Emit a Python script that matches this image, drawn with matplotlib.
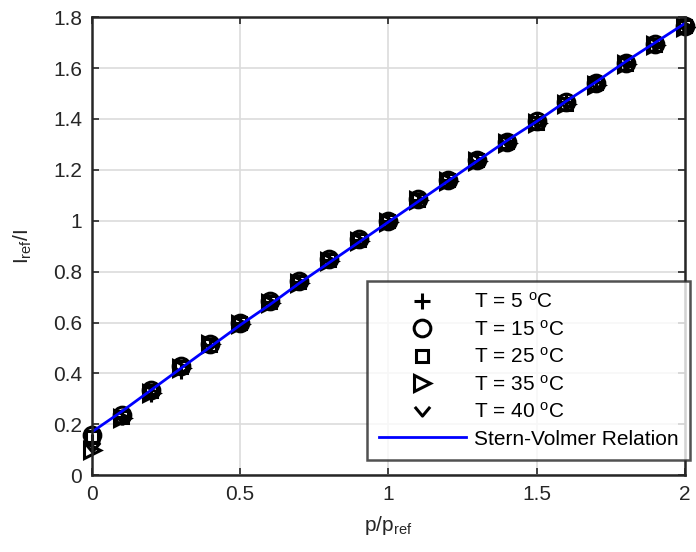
import numpy as np
import matplotlib.pyplot as plt
from matplotlib.path import Path

plt.rcParams['font.family'] = ['Liberation Sans', 'DejaVu Sans']
plt.rcParams['mathtext.fontset'] = 'custom'
plt.rcParams['mathtext.rm'] = 'Liberation Sans'
plt.rcParams['mathtext.it'] = 'Liberation Sans'

p = np.round(np.arange(0, 2.01, 0.1), 2)

t5 = [0.13, 0.23, 0.32, 0.41, 0.51, 0.60, 0.68, 0.76, 0.845, 0.925, 1.0,
      1.08, 1.16, 1.235, 1.31, 1.39, 1.465, 1.545, 1.62, 1.69, 1.765]
t15 = [0.16, 0.235, 0.335, 0.43, 0.515, 0.60, 0.685, 0.765, 0.85, 0.93, 1.0,
       1.085, 1.16, 1.24, 1.31, 1.39, 1.465, 1.54, 1.62, 1.695, 1.765]
t25 = [0.15, 0.23, 0.33, 0.425, 0.51, 0.60, 0.68, 0.76, 0.845, 0.925, 1.0,
       1.08, 1.16, 1.24, 1.31, 1.385, 1.46, 1.54, 1.615, 1.69, 1.765]
t35 = [0.10, 0.225, 0.325, 0.42, 0.515, 0.595, 0.675, 0.755, 0.84, 0.92, 0.995,
       1.08, 1.155, 1.235, 1.305, 1.385, 1.46, 1.535, 1.615, 1.69, 1.76]
t40 = [0.11, 0.225, 0.32, 0.415, 0.51, 0.595, 0.675, 0.755, 0.84, 0.915, 0.995,
       1.075, 1.155, 1.235, 1.31, 1.385, 1.46, 1.535, 1.615, 1.69, 1.76]
sv = [0.17, 0.25, 0.335, 0.42, 0.505, 0.59, 0.67, 0.755, 0.835, 0.915, 0.995,
      1.075, 1.155, 1.235, 1.315, 1.39, 1.47, 1.545, 1.625, 1.70, 1.775]

labels = ['T = 5 $^{\\mathrm{o}}$C', 'T = 15 $^{\\mathrm{o}}$C', 'T = 25 $^{\\mathrm{o}}$C',
          'T = 35 $^{\\mathrm{o}}$C', 'T = 40 $^{\\mathrm{o}}$C']

# chevron marker like the legend
chevron = Path([(-1, 0.6), (0, -0.6), (1, 0.6)], [Path.MOVETO, Path.LINETO, Path.LINETO])
markers = ['+', 'o', 's', '>', chevron]
sizes = [12, 12, 8, 12, 11]

fig = plt.figure(figsize=(6.96, 5.52), dpi=100)
ax = fig.add_axes([0.132, 0.139, 0.852, 0.83])

for ys, m, lab, s in zip([t5, t15, t25, t35, t40], markers, labels, sizes):
    ax.plot(p, ys, linestyle='none', marker=m, markersize=s, markerfacecolor='none',
            markeredgecolor='k', markeredgewidth=2.2, label=lab, clip_on=False)
ax.plot(p, sv, color='#0000ff', linewidth=2.0, label='Stern-Volmer Relation')

ax.set_xlim(0, 2)
ax.set_ylim(0, 1.8)
ax.set_xticks([0, 0.5, 1, 1.5, 2])
ax.set_xticklabels(['0', '0.5', '1', '1.5', '2'])
ax.set_yticks(np.arange(0, 1.81, 0.2))
ax.set_yticklabels(['0', '0.2', '0.4', '0.6', '0.8', '1', '1.2', '1.4', '1.6', '1.8'])
ax.grid(True, color='#dcdcdc', linewidth=1.2)
ax.set_axisbelow(True)
ax.tick_params(direction='in', top=True, right=True, labelsize=15, length=5,
               width=1.2, colors='#262626', pad=7)
for sp in ax.spines.values():
    sp.set_color('#262626')
    sp.set_linewidth(1.8)

ax.set_xlabel('p/p$_{\\mathrm{ref}}$', fontsize=15, color='#262626', labelpad=7)
ax.set_ylabel('I$_{\\mathrm{ref}}$/I', fontsize=15, color='#262626', labelpad=14)

leg = ax.legend(loc='lower right', bbox_to_anchor=(1.008, 0.033), fontsize=15,
                frameon=True, fancybox=False, edgecolor='#262626',
                handlelength=4.2, labelspacing=0.36, borderpad=0.55,
                handletextpad=0.35, borderaxespad=0.0)
leg.get_frame().set_linewidth(1.8)

fig.savefig('out.png', dpi=100)
